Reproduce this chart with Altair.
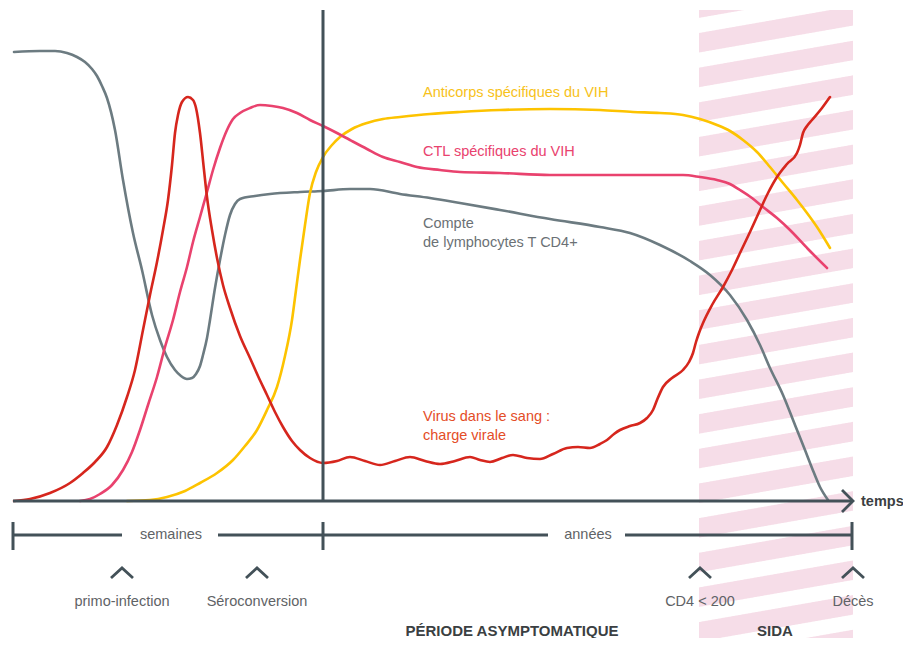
import altair as alt
import pandas as pd
import numpy as np

# ---------------- data (picture pixel units) ----------------
cd4_x = [14, 40, 55, 67, 77, 85, 92, 97, 102, 107, 115, 123, 133, 142, 152, 160, 167, 175, 181, 187,
         192, 196, 200, 203, 207, 210, 215, 220, 225, 230, 235, 240, 255, 270, 300, 323, 350, 370,
         400, 430, 460, 500, 550, 600, 630, 660, 690, 710, 730, 747, 760, 770, 783, 795, 805, 812, 820, 828]
cd4_y = [52, 51, 51, 53, 57, 62, 69, 76, 86, 98, 130, 180, 233, 270, 315, 340, 357, 370, 376, 379,
         378, 374, 366, 355, 338, 320, 288, 260, 235, 215, 204, 199, 196, 194, 192, 191, 189, 189,
         194, 198, 203, 210, 219, 227, 233, 245, 261, 275, 295, 320, 345, 368, 395, 425, 450, 468, 487, 500]

virus_x = [14, 30, 50, 70, 83, 95, 107, 117, 127, 135, 143, 150, 157, 163, 168, 172, 175, 178, 182, 188,
           193, 196, 200, 204, 207, 212, 217, 223, 230, 240, 250, 258, 267, 275, 283, 292, 300, 310, 323,
           337, 350, 365, 380, 395, 410, 425, 440, 455, 470, 480, 490, 502, 513, 527, 540, 553, 567, 578,
           590, 600, 607, 614, 620, 630, 640, 647, 653, 657, 663, 672, 683, 689, 693, 696, 699, 703, 712,
           723, 732, 740, 750, 760, 768, 777, 787, 797, 800, 803, 807, 812, 822, 830]
virus_y = [501, 499, 493, 483, 473, 462, 447, 425, 397, 370, 330, 295, 262, 230, 200, 165, 133, 115, 102, 97,
           100, 108, 133, 170, 197, 230, 258, 285, 308, 336, 358, 376, 395, 412, 427, 441, 450, 458, 463,
           461, 457, 461, 465, 461, 457, 461, 464, 461, 457, 460, 462, 458, 455, 458, 459, 454, 448, 447,
           448, 444, 440, 434, 430, 426, 423, 418, 410, 400, 387, 378, 370, 362, 353, 342, 333, 323, 305,
           287, 270, 253, 232, 210, 193, 177, 164, 153, 145, 133, 126, 120, 108, 97]

ctl_x = [80, 90, 100, 112, 123, 132, 140, 148, 157, 165, 173, 180, 187, 193, 200, 207, 213, 220, 227, 233,
         240, 250, 260, 272, 283, 297, 310, 323, 337, 350, 367, 383, 400, 417, 440, 460, 500, 550, 600,
         650, 683, 700, 717, 730, 740, 752, 763, 777, 790, 808, 827]
ctl_y = [501, 499, 494, 485, 470, 452, 430, 405, 377, 347, 320, 292, 267, 242, 217, 192, 170, 148, 130, 119,
         113, 108, 105, 106, 108, 113, 120, 126, 133, 140, 149, 157, 162, 167, 170, 172, 173, 175, 175,
         175, 175, 177, 180, 184, 190, 198, 207, 218, 230, 249, 268]

ab_x = [127, 150, 167, 185, 200, 217, 233, 245, 257, 267, 277, 285, 292, 296, 300, 305, 310, 316, 323, 332,
        340, 352, 367, 383, 400, 430, 460, 500, 550, 600, 633, 660, 683, 700, 717, 730, 743, 757, 770, 783,
        797, 807, 817, 830]
ab_y = [501, 500, 497, 491, 483, 473, 460, 446, 430, 410, 387, 356, 320, 290, 260, 225, 193, 172, 157, 145,
        137, 129, 123, 119, 117, 114, 112, 110, 109, 110, 112, 113, 115, 119, 125, 131, 140, 152, 167, 183,
        200, 213, 227, 248]

# timeline markers
marker_x = [122, 257, 700, 853]
marker_labels = ["primo-infection", "Séroconversion", "CD4 < 200", "Décès"]

# ---------------- styles ----------------
W, H = 895, 630
X0, Y0 = 8, 8
FONT = "Liberation Sans"
DARK = "#435158"
GRAYTXT = "#5f6366"
C_CD4 = "#6c7b81"
C_VIR = "#d6261d"
C_CTL = "#e9426e"
C_AB = "#fdc300"
C_STRIPE = "#f6dde8"

xs = alt.Scale(domain=[X0, X0 + W], nice=False, zero=False)
ys = alt.Scale(domain=[Y0, Y0 + H], nice=False, zero=False, reverse=True)
X = lambda f="x": alt.X(f"{f}:Q", scale=xs, axis=None)
Y = lambda f="y": alt.Y(f"{f}:Q", scale=ys, axis=None)

# ---------------- hatched SIDA band ----------------
band_x0, band_x1, band_top, band_bot = 699, 853, 10, Y0 + H
period, thick, start, slope = 34.65, 19.5, 33.0, -0.175
rows = []
xx = np.arange(band_x0, band_x1 + 0.5, 1.0)
for k in range(-2, 20):
    top = start + period * k + slope * (xx - band_x0)
    bot = top + thick
    t = np.clip(top, band_top, band_bot)
    b = np.clip(bot, band_top, band_bot)
    if np.all(b - t <= 0):
        continue
    for xi, ti, bi in zip(xx, t, b):
        rows.append({"x": xi, "y": ti, "y2": bi, "k": k})
stripes = alt.Chart(pd.DataFrame(rows)).mark_area(color=C_STRIPE, opacity=1).encode(
    x=X(), y=Y(), y2="y2:Q", detail="k:N")

# ---------------- curves ----------------
def curve(xv, yv, color):
    df = pd.DataFrame({"x": xv, "y": yv, "o": range(len(xv))})
    return alt.Chart(df).mark_line(color=color, strokeWidth=2.6, interpolate="monotone",
                                   strokeCap="round").encode(x=X(), y=Y(), order="o:Q")

curves = [curve(cd4_x, cd4_y, C_CD4), curve(ab_x, ab_y, C_AB),
          curve(ctl_x, ctl_y, C_CTL), curve(virus_x, virus_y, C_VIR)]

# ---------------- axes / timeline ----------------
seg = pd.DataFrame([
    (13, 501, 853, 501),   # time axis
    (323, 10, 323, 501),   # end of primo-infection
    (13, 535, 122, 535), (218, 535, 323, 535),
    (323, 535, 548, 535), (625, 535, 852, 535),
    (13, 522, 13, 550), (323, 522, 323, 550), (852, 522, 852, 550),
], columns=["x", "y", "x2", "y2"])
rules = alt.Chart(seg).mark_rule(color=DARK, strokeWidth=3).encode(
    x=X(), y=Y(), x2="x2:Q", y2="y2:Q")

poly = []
for i, mx in enumerate(marker_x):
    for j, (dx, yy) in enumerate([(-11, 578), (0, 568), (11, 578)]):
        poly.append({"x": mx + dx, "y": yy, "g": f"m{i}", "o": j})
for j, (px, py) in enumerate([(842, 490), (853, 501), (842, 512)]):
    poly.append({"x": px, "y": py, "g": "arrow", "o": j})
chevrons = alt.Chart(pd.DataFrame(poly)).mark_line(color=DARK, strokeWidth=2.8).encode(
    x=X(), y=Y(), detail="g:N", order="o:Q")

# ---------------- texts ----------------
curve_labels = pd.DataFrame([
    ("Anticorps spécifiques du VIH", 423, 93, "#f7c21a"),
    ("CTL spécifiques du VIH", 423, 152, C_CTL),
    ("Compte", 423, 224, "#6b7175"),
    ("de lymphocytes T CD4+", 423, 243, "#6b7175"),
    ("Virus dans le sang :", 423, 417, "#e44d27"),
    ("charge virale", 423, 436, "#e44d27"),
], columns=["t", "x", "y", "c"])
t_curves = alt.Chart(curve_labels).mark_text(align="left", baseline="middle", font=FONT,
                                             fontSize=14.5).encode(
    x=X(), y=Y(), text="t:N", color=alt.Color("c:N", scale=None))

center_labels = pd.DataFrame(
    [("semaines", 171, 535), ("années", 588, 535)] +
    [(lab, mx, 602) for lab, mx in zip(marker_labels, marker_x)],
    columns=["t", "x", "y"])
t_center = alt.Chart(center_labels).mark_text(align="center", baseline="middle", font=FONT,
                                              fontSize=14.5, color=GRAYTXT).encode(
    x=X(), y=Y(), text="t:N")

bold_labels = pd.DataFrame([("PÉRIODE ASYMPTOMATIQUE", 512, 631), ("SIDA", 775, 631)],
                           columns=["t", "x", "y"])
t_bold = alt.Chart(bold_labels).mark_text(align="center", baseline="middle", font=FONT,
                                          fontSize=15, fontWeight="bold", color="#3b3f42").encode(
    x=X(), y=Y(), text="t:N")
t_temps = alt.Chart(pd.DataFrame([("temps", 861, 502)], columns=["t", "x", "y"])).mark_text(
    align="left", baseline="middle", font=FONT, fontSize=14.5, fontWeight="bold",
    color="#3b3f42").encode(x=X(), y=Y(), text="t:N")

chart = alt.layer(stripes, *curves, rules, chevrons, t_curves, t_center, t_bold, t_temps).properties(
    width=W, height=H, padding=0, background="white",
    autosize=alt.AutoSizeParams(type="none")
).configure_view(stroke=None)

chart.save("out.html", embed_options={"renderer": "svg", "actions": False})
